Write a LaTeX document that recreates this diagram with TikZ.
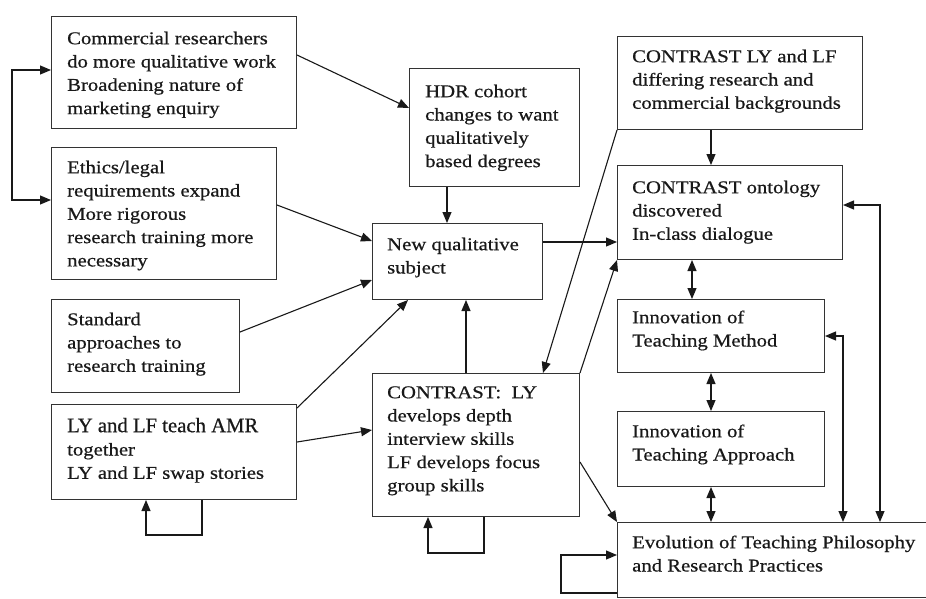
\documentclass[tikz,border=0pt]{standalone}
\usepackage{fontspec}
\setmainfont{Liberation Serif}[FakeStretch=1.15,FakeBold=0.6]
\newfontfamily\bigfont{Liberation Serif}[FakeBold=0.6]
\usetikzlibrary{arrows.meta}
\newcommand\firstl{\rule{0pt}{15pt}}
\begin{document}
\begin{tikzpicture}[x=1pt,y=-1pt,
  box/.style={draw=black!80,line width=1pt,inner sep=0pt,anchor=north west},
  txt/.style={anchor=north west,inner sep=0pt,align=left,font=\fontsize{18}{23.3}\selectfont,text=black!90},
  arr/.style={draw=black!90,line width=1.1pt,-{Triangle[length=11pt,width=9pt]}},
  darr/.style={draw=black!90,line width=1.1pt,{Triangle[length=11pt,width=9pt]}-{Triangle[length=11pt,width=9pt]}}]
\useasboundingbox[fill=white] (0,0) rectangle (926,598);

% boxes
\node[box,minimum width=245pt,minimum height=112pt] (b1) at (51,16) {};
\node[box,minimum width=225pt,minimum height=132pt] (b2) at (51,147) {};
\node[box,minimum width=188pt,minimum height=93pt] (b3) at (51,299) {};
\node[box,minimum width=245pt,minimum height=95pt] (b4) at (51,404) {};
\node[box,minimum width=170pt,minimum height=118pt] (hdr) at (409,68) {};
\node[box,minimum width=170pt,minimum height=76pt] (new) at (372,223) {};
\node[box,minimum width=207pt,minimum height=143pt] (cly) at (372,373) {};
\node[box,minimum width=245pt,minimum height=93pt] (lf) at (617,36) {};
\node[box,minimum width=225pt,minimum height=94pt] (ont) at (617,165) {};
\node[box,minimum width=207pt,minimum height=73pt] (meth) at (617,299) {};
\node[box,minimum width=207pt,minimum height=75pt] (appr) at (617,411) {};
\node[box,minimum width=320pt,minimum height=75pt] (evo) at (617,522) {};

% texts
\node[txt] (t1) at ([shift={(16,13)}]b1.north west) {\firstl Commercial researchers\\do more qualitative work\\Broadening nature of\\marketing enquiry};
\node[txt] (t2) at ([shift={(16,11)}]b2.north west) {\firstl Ethics/legal\\requirements expand\\More rigorous\\research training more\\necessary};
\node[txt] (t3) at ([shift={(16,11)}]b3.north west) {\firstl Standard\\approaches to\\research training};
\node[txt] (t4) at ([shift={(16,13)}]b4.north west) {\firstl{\bigfont\fontsize{20.7}{22}\selectfont LY and LF teach AMR}\\together\\LY and LF swap stories};
\node[txt] (t5) at ([shift={(16,14)}]hdr.north west) {\firstl HDR cohort\\changes to want\\qualitatively\\based degrees};
\node[txt] (t6) at ([shift={(15,12)}]new.north west) {\firstl New qualitative\\subject};
\node[txt] (t7) at ([shift={(15,10)}]cly.north west) {\firstl CONTRAST:~ LY\\develops depth\\interview skills\\LF develops focus\\group skills};
\node[txt] (t8) at ([shift={(15,11)}]lf.north west) {\firstl CONTRAST LY and LF\\differing research and\\commercial backgrounds};
\node[txt] (t9) at ([shift={(15,13)}]ont.north west) {\firstl CONTRAST ontology\\discovered\\In-class dialogue};
\node[txt] (t10) at ([shift={(15,9)}]meth.north west) {\firstl Innovation of\\Teaching Method};
\node[txt] (t11) at ([shift={(15,11)}]appr.north west) {\firstl Innovation of\\Teaching Approach};
\node[txt] (t12) at ([shift={(15,11)}]evo.north west) {\firstl Evolution of Teaching Philosophy\\and Research Practices};

% connectors
\draw[darr] (b1.west |- 0,70) -- (12,70) -- (12,200) -- (b2.west |- 0,200);
\draw[arr] (b1.east |- 0,55) -- (hdr.west |- 0,108);
\draw[arr] (b2.east |- 0,205) -- (new.west |- 0,241);
\draw[arr] (b3.east |- 0,332) -- (new.west |- 0,280);
\draw[arr] (b4.east |- 0,408) -- (new.south -| 408,0);
\draw[arr] (b4.east |- 0,442) -- (cly.west |- 0,430);
\draw[arr] (b4.south -| 202,0) -- (202,535) -- (146,535) -- (b4.south -| 146,0);
\draw[arr] (hdr.south -| 447,0) -- (new.north -| 447,0);
\draw[arr] (cly.north -| 466,0) -- (new.south -| 466,0);
\draw[arr] (new.east |- 0,242) -- (ont.west |- 0,242);
\draw[arr] (lf.south -| 711,0) -- (ont.north -| 711,0);
\draw[arr] (lf.south west) -- (cly.north -| 543,0);
\draw[arr] (cly.north east) -- (ont.south west);
\draw[arr] (cly.east |- 0,462) -- (evo.north west);
\draw[darr] (ont.south -| 692,0) -- (meth.north -| 692,0);
\draw[darr] (meth.south -| 711,0) -- (appr.north -| 711,0);
\draw[darr] (appr.south -| 711,0) -- (evo.north -| 711,0);
\draw[darr] (meth.east |- 0,336) -- (843,336) -- (evo.north -| 843,0);
\draw[darr] (ont.east |- 0,205) -- (880,205) -- (evo.north -| 880,0);
\draw[arr] (cly.south -| 484,0) -- (484,553) -- (428,553) -- (cly.south -| 428,0);
\draw[arr] (evo.west |- 0,593) -- (561,593) -- (561,555) -- (evo.west |- 0,555);
\end{tikzpicture}
\end{document}
